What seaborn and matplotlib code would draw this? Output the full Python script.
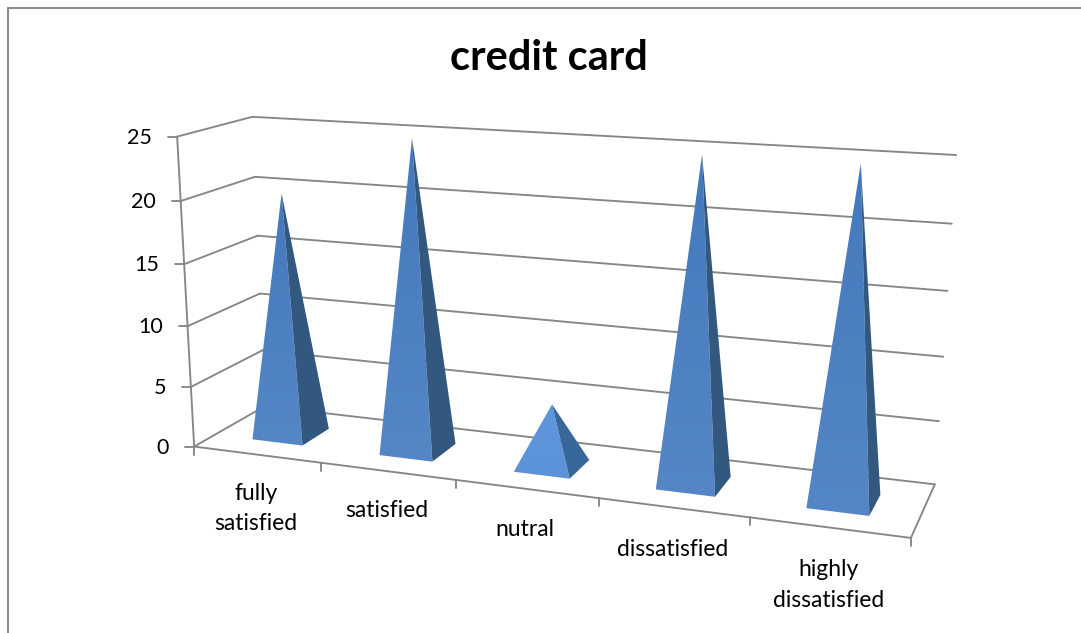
import numpy as np
import pandas as pd
import matplotlib
matplotlib.use("Agg")
import matplotlib.pyplot as plt
from matplotlib.patches import Polygon
from matplotlib.colors import LinearSegmentedColormap
import seaborn as sns

categories = ["fully\nsatisfied", "satisfied", "nutral", "dissatisfied", "highly\ndissatisfied"]
values = [20, 25, 5, 25, 25]
value_ticks = [0, 5, 10, 15, 20, 25]
title = "credit card"

sns.set_theme(style="white")
plt.rcParams["font.family"] = ["Lato", "DejaVu Sans"]

W, H = 1081, 633
fig = plt.figure(figsize=(W / 100, H / 100), dpi=100)
ax = fig.add_axes([0, 0, 1, 1])
ax.set_xlim(0, W)
ax.set_ylim(H, 0)
ax.axis("off")

# Camera: world (category position, depth, value) -> picture pixels, fitted on the plot box corners
N = len(categories)
VMAX = value_ticks[-1]
anchors = [
    ((0, 0, 0), (195, 447)), ((0, 0, VMAX), (177, 137)),
    ((0, 1, 0), (264, 406)), ((0, 1, VMAX), (253, 117)),
    ((N, 0, 0), (911, 538)), ((N, 1, 0), (935, 484)),
    ((N, 1, VMAX), (956, 155)), ((1, 0, 0), (322, 463)),
    ((3, 0, 0), (598, 498)), ((N, 1, 20), (952, 224)),
    ((0, 0, 20), (180, 200)),
]
A, b = [], []
for (u, d, v), (px, py) in anchors:
    A.append([u, d, v, 1, 0, 0, 0, 0, -px * u, -px * d, -px * v])
    b.append(px)
    A.append([0, 0, 0, 0, u, d, v, 1, -py * u, -py * d, -py * v])
    b.append(py)
m = np.linalg.lstsq(np.array(A, float), np.array(b, float), rcond=None)[0]


def proj(u, d, v):
    den = m[8] * u + m[9] * d + m[10] * v + 1
    return ((m[0] * u + m[1] * d + m[2] * v + m[3]) / den,
            (m[4] * u + m[5] * d + m[6] * v + m[7]) / den)


# Frame of the chart area
rows = []


def seg(name, p, q):
    rows.append((name, p[0], p[1]))
    rows.append((name, q[0], q[1]))


seg("border_l", (8, H), (8, 8))
seg("border_t", (8, 8), (W, 8))
for v in value_ticks:
    fl, bl, br = proj(0, 0, v), proj(0, 1, v), proj(N, 1, v)
    seg(f"wall_l{v}", fl, bl)
    seg(f"wall_b{v}", bl, br)
    seg(f"ytick{v}", (fl[0] - 9, fl[1]), fl)
seg("yaxis", proj(0, 0, 0), proj(0, 0, VMAX))
seg("floor_f", proj(0, 0, 0), proj(N, 0, 0))
seg("floor_r", proj(N, 0, 0), proj(N, 1, 0))
for i in range(N + 1):
    p = proj(i, 0, 0)
    seg(f"xtick{i}", p, (p[0], p[1] + 8))
lines = pd.DataFrame(rows, columns=["seg", "sx", "sy"])
sns.lineplot(data=lines, x="sx", y="sy", units="seg", estimator=None, sort=False,
             color="#868686", lw=1.35, ax=ax, legend=False, zorder=1)
ax.set_xlim(0, W)
ax.set_ylim(H, 0)
ax.axis("off")

# Pyramids
HALF_U, D0, D1 = 0.2, 0.28, 0.68
for i, val in enumerate(values):
    c = i + 0.505 - 0.002 * i
    fl = proj(c - HALF_U, D0, 0)
    fr = proj(c + HALF_U, D0, 0)
    br = proj(c + HALF_U, D1, 0)
    apex = proj(c, (D0 + D1) / 2, val)
    if val < 10:
        ctop, cbot = "#5F96DC", "#5B92D8"
        side = "#38679A"
    else:
        ctop, cbot = "#4479BC", "#5587C6"
        side = "#33587F"
    cmap = LinearSegmentedColormap.from_list("f", [ctop, cbot])
    grad = np.linspace(0, 1, 256).reshape(-1, 1)
    ymin, ymax = apex[1], max(fl[1], fr[1])
    xmin, xmax = min(fl[0], apex[0]), max(fr[0], apex[0])
    im = ax.imshow(grad, extent=(xmin, xmax, ymax, ymin), cmap=cmap, aspect="auto", zorder=3)
    poly = Polygon([fl, fr, apex], closed=True, transform=ax.transData, fc="none", ec="none")
    ax.add_patch(poly)
    im.set_clip_path(poly)
    ax.add_patch(Polygon([fr, br, apex], closed=True, fc=side, ec="none", zorder=3))
ax.set_xlim(0, W)
ax.set_ylim(H, 0)

# Texts
for v in value_ticks:
    p = proj(0, 0, v)
    ax.text(p[0] - 25, p[1] + 1, str(v), ha="right", va="center", fontsize=15.5, color="black", zorder=5)
for i, name in enumerate(categories):
    p = proj(i + 0.5, 0, 0)
    ax.text(p[0] - 1, p[1] + 28 + i, name, ha="center", va="top", fontsize=16.5, color="black",
            linespacing=1.55, zorder=5)
ax.text(549, 58, title, ha="center", va="center", fontsize=30, fontweight="bold", color="black", zorder=5)

fig.savefig("out.png", dpi=100, facecolor="white")
